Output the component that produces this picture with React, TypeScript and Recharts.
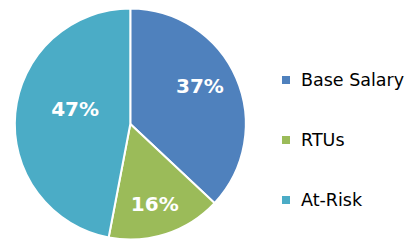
import { PieChart, Pie, Cell, Legend } from "recharts"

const categories = ["Base Salary", "RTUs", "At-Risk"]
const shares = [37, 16, 47]
const colors = ["#4F81BD", "#9BBB59", "#4BACC6"]
// label placement inside each slice: fraction of radius and angle nudge (deg)
const labelRadius = [0.685, 0.728, 0.495]
const labelAngleShift = [4.9, -1.1, -9.6]

const data = categories.map((name, i) => ({ name, value: shares[i] }))

const RAD = Math.PI / 180

function renderLabel(props: any) {
  const { cx, cy, midAngle, outerRadius, index, value } = props
  const r = outerRadius * labelRadius[index]
  const a = midAngle + labelAngleShift[index]
  const x = cx + r * Math.cos(-a * RAD)
  const y = cy + r * Math.sin(-a * RAD)
  return (
    <text
      x={x}
      y={y}
      fill="#ffffff"
      textAnchor="middle"
      dominantBaseline="central"
      fontFamily="DejaVu Sans"
      fontWeight="bold"
      fontSize={20}
    >
      {`${value}%`}
    </text>
  )
}

function renderLegend(props: any) {
  const items = [...(props.payload || [])].sort(
    (a: any, b: any) => categories.indexOf(a.value) - categories.indexOf(b.value)
  )
  return (
    <div>
      {items.map((entry: any, i: number) => (
        <div key={i} style={{ height: 60, display: "flex", alignItems: "center" }}>
          <span
            style={{
              display: "inline-block",
              width: 8,
              height: 8,
              background: entry.color,
              marginRight: 11,
            }}
          />
          <span style={{ fontFamily: "DejaVu Sans", fontSize: 17.5, color: "#000000" }}>{entry.value}</span>
        </div>
      ))}
    </div>
  )
}

export default function App() {
  return (
    <div style={{ position: "absolute", left: 0, top: 0, width: 411, height: 240, background: "#ffffff" }}>
      <PieChart width={411} height={240} margin={{ top: 0, right: 0, bottom: 0, left: 0 }}>
        <Pie
          data={data}
          dataKey="value"
          nameKey="name"
          cx={130.3}
          cy={124}
          outerRadius={115.5}
          startAngle={90}
          endAngle={-270}
          stroke="#ffffff"
          strokeWidth={2}
          label={renderLabel}
          labelLine={false}
          isAnimationActive={false}
        >
          {data.map((d, i) => (
            <Cell key={d.name} fill={colors[i]} />
          ))}
        </Pie>
        <Legend
          layout="vertical"
          content={renderLegend}
          wrapperStyle={{ left: 282, top: 50, width: 129 }}
        />
      </PieChart>
    </div>
  )
}
